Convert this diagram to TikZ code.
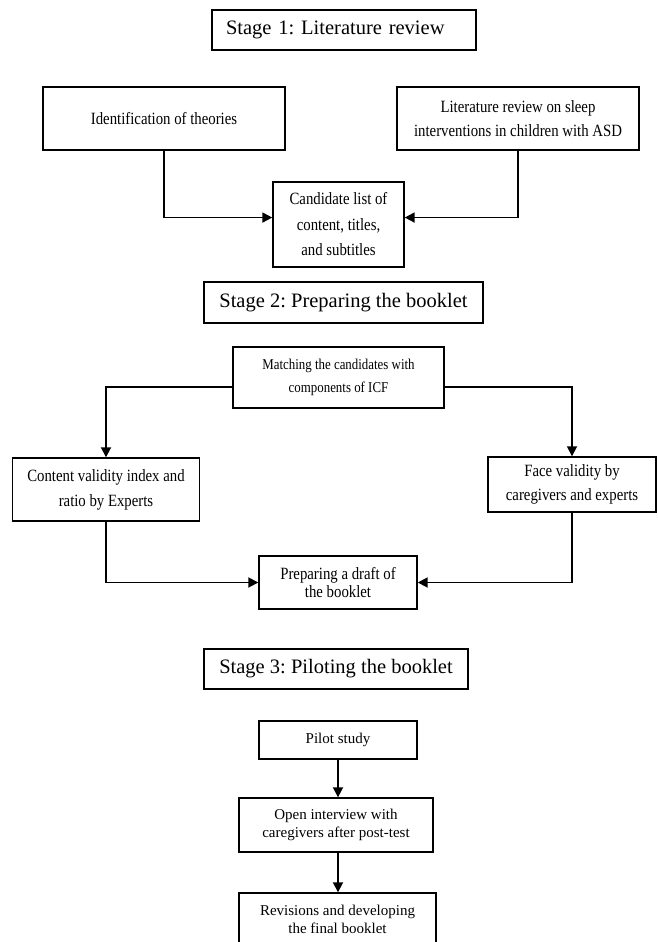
\documentclass[tikz,border=0pt]{standalone}
\usepackage{fontspec}
\setmainfont{Liberation Serif}
\newfontfamily\narrowserif[FakeStretch=0.86]{Liberation Serif}
\frenchspacing
\usetikzlibrary{arrows.meta}

\begin{document}
\begin{tikzpicture}[
  x=1pt, y=-1pt,
  stagebox/.style = {rectangle, draw=black, line width=1.4pt, inner sep=0pt, align=center,
                     minimum height=40pt, font=\fontsize{20.5}{24}\selectfont},
  taskbox/.style  = {rectangle, draw=black, line width=1.4pt, inner sep=0pt, align=center,
                     font=\narrowserif\fontsize{17.2}{24}\selectfont},
  arr/.style      = {-{Triangle[length=10pt,width=10pt]}, line width=1.8pt}
]
\useasboundingbox (0,0) rectangle (657,942);

%% -- Stage 1: literature review ---------------------------------------------
\node[stagebox, text width=236pt, inner xsep=14pt, align=left] (stageA) at (344,30) {Stage 1: Literature review};
\node[taskbox, minimum width=242pt, minimum height=63pt] (ident)  at (164,118.5) {Identification of theories};
\node[taskbox, minimum width=242pt, minimum height=63pt] (litrev) at (518,118.5) {Literature review on sleep\\interventions in children with ASD};
\node[taskbox, minimum width=131pt, minimum height=85pt, font=\narrowserif\fontsize{17.2}{25.5}\selectfont] (cand) at (338.5,224.5)
     {Candidate list of\\content, titles,\\and subtitles};

%% -- Stage 2: preparing the booklet -----------------------------------------
\node[stagebox, minimum width=279pt, minimum height=41pt] (stageB) at (343.5,302.5) {Stage 2: Preparing the booklet};
\node[taskbox, minimum width=211pt, minimum height=61pt, font=\narrowserif\fontsize{15}{23.5}\selectfont] (match) at (338.5,377.5)
     {Matching the candidates with\\components of ICF};
\node[taskbox, minimum width=187pt, minimum height=63pt, font=\narrowserif\fontsize{17.2}{25}\selectfont] (content) at (106,489.5)
     {Content validity index and\\ratio by Experts};
\node[taskbox, minimum width=168pt, minimum height=55pt] (face) at (572,484.5) {Face validity by\\caregivers and experts};
\node[taskbox, minimum width=158pt, minimum height=53pt, font=\narrowserif\fontsize{17.2}{18}\selectfont] (draft) at (338,582.5)
     {Preparing a draft of\\the booklet};

%% -- Stage 3: piloting the booklet ------------------------------------------
\node[stagebox, minimum width=264pt] (stageC) at (336,669) {Stage 3: Piloting the booklet};
\node[taskbox, minimum width=158pt, minimum height=38pt, font=\fontsize{15}{18}\selectfont] (pilot) at (338,740) {Pilot study};
\node[taskbox, minimum width=194pt, minimum height=54pt, font=\fontsize{15}{18}\selectfont] (open) at (336,825)
     {Open interview with\\caregivers after post-test};
\node[taskbox, minimum width=197pt, minimum height=53pt, font=\fontsize{15}{18}\selectfont] (revise) at (337.5,919.5)
     {Revisions and developing\\the final booklet};

%% -- Connectors -------------------------------------------------------------
\draw[arr] (ident.south)  |- (cand.174);
\draw[arr] (litrev.south) |- (cand.6);
\draw[arr] (match.185) -| (content.north);
\draw[arr] (match.355) -| (face.north);
\draw[arr] (content.south) |- (draft.west);
\draw[arr] (face.south)    |- (draft.east);
\draw[arr] (pilot.south) -- (pilot.south |- open.north);
\draw[arr] (pilot.south |- open.south) -- (pilot.south |- revise.north);

\end{tikzpicture}
\end{document}
